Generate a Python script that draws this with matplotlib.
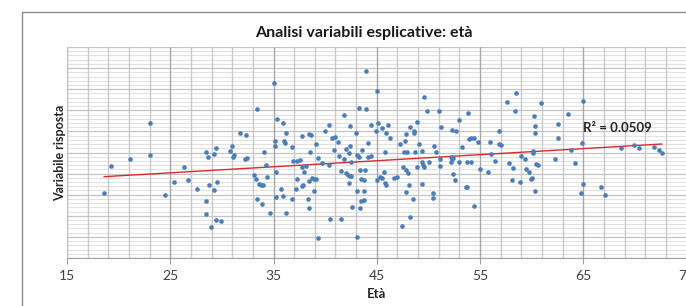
import numpy as np
import matplotlib
matplotlib.use("Agg")
import matplotlib.pyplot as plt
from matplotlib.lines import Line2D
from matplotlib.ticker import MultipleLocator

# ---- data (age vs. response, response in arbitrary units 0-100) ----
eta = [18.6, 19.3, 21.1, 23.0, 23.0, 24.5, 25.4, 26.3, 26.7, 27.6,
       28.5, 29.4, 29.2, 28.7, 28.8, 29.2, 29.5, 28.5, 28.5, 29.4, 29.9, 28.9,
       30.8, 31.0, 31.1, 31.2, 32.2, 32.4, 31.8, 32.3, 33.4,
       33.1, 33.3, 33.6, 33.8, 34.0, 33.4, 33.9, 34.7,
       35.0, 44.0, 45.0, 49.6, 35.3, 35.9, 36.2, 35.1, 35.1, 34.1, 34.3, 36.0, 36.1,
       36.8, 36.9, 37.3, 37.6, 37.8, 38.4, 38.6, 37.8, 38.1, 38.0, 38.5, 39.1, 39.3,
       39.7, 40.0, 40.4, 40.7, 41.0, 41.2, 40.9, 41.3, 40.4, 41.8, 42.4, 42.0, 42.3,
       42.4, 43.0, 43.3, 44.0, 43.1, 43.3, 43.6, 42.5, 41.5, 42.0, 42.2, 42.4, 42.5,
       42.3, 43.4, 43.9, 43.5, 43.8, 43.1, 43.8, 43.5, 43.8, 43.4, 42.6, 43.1, 39.3,
       40.5, 41.5, 38.4, 38.3, 38.9, 38.7, 38.9, 39.1, 38.4, 37.8, 37.9, 37.2, 37.3,
       36.8, 36.2, 35.7, 35.9, 35.2, 35.2, 34.4, 41.8,
       44.4, 44.9, 45.1, 45.5, 46.1, 45.9, 46.3, 44.2, 45.8, 44.2, 44.4, 45.7, 45.0,
       45.3, 45.5, 45.8, 45.9, 46.7, 47.0, 47.4, 47.8, 48.1, 48.5, 48.2, 47.5, 47.8,
       48.0, 47.3, 47.7, 47.6, 47.9, 47.8, 48.2, 48.6, 48.6, 48.9, 48.7, 49.1, 49.4,
       48.9, 49.4, 49.5, 49.6, 49.4, 50.4, 50.4, 49.9, 51.0, 51.2, 50.5, 50.7, 50.1,
       51.1, 51.1, 52.2, 52.4, 52.3, 52.2, 52.3, 52.7, 52.4, 52.6, 53.0, 53.0,
       53.8, 53.3, 53.7, 54.1, 53.9, 54.1, 54.4, 53.6, 53.7, 54.4, 54.8, 55.0, 55.8,
       56.0, 56.1, 56.5, 56.8, 56.8, 57.0, 57.6, 58.5, 58.4, 57.8, 58.2, 58.1, 58.9,
       59.0, 59.4, 59.5, 59.7, 59.9, 60.0, 60.1, 60.1, 60.3, 60.2, 60.3, 60.3, 60.4,
       60.6, 60.9, 62.3, 62.6, 62.6, 63.5, 63.8, 64.2, 65.0, 64.9, 65.0, 64.8, 66.7,
       67.1, 68.7, 69.9, 70.4, 71.9, 72.3, 72.6]
risposta = [31.0, 43.7, 47.1, 63.8, 48.8, 29.9, 36.0, 43.1, 36.8, 32.7,
            50.2, 52.1, 49.1, 47.7, 34.6, 32.1, 36.0, 26.9, 21.0, 17.9, 17.5, 14.5,
            50.9, 53.2, 48.0, 48.7, 47.1, 47.3, 59.1, 58.2, 70.8,
            39.2, 37.4, 34.9, 34.7, 34.5, 27.8, 25.7, 21.2,
            82.8, 88.6, 79.0, 76.4, 65.9, 64.1, 59.1, 55.5, 53.2, 50.4, 43.9, 55.5, 54.4,
            52.6, 46.1, 46.1, 46.4, 57.7, 58.8, 58.4, 43.3, 43.6, 40.9, 50.4, 53.9, 47.5,
            44.9, 60.3, 63.2, 57.0, 57.3, 55.1, 51.2, 48.5, 44.1, 67.6, 62.6, 51.5, 49.9,
            53.1, 59.4, 71.2, 70.6, 48.8, 48.0, 51.2, 45.6, 41.2, 40.1, 39.3, 38.9, 38.7,
            35.7, 41.7, 41.7, 37.4, 37.0, 31.9, 31.9, 26.9, 27.5, 23.7, 24.0, 10.1, 9.6,
            18.6, 18.6, 23.7, 28.1, 31.9, 37.9, 37.6, 37.4, 36.6, 34.1, 34.6, 32.8, 37.6,
            28.1, 21.5, 32.7, 29.4, 29.1, 40.9, 38.2, 47.1,
            63.0, 60.3, 64.1, 61.8, 63.2, 59.1, 56.7, 54.6, 50.4, 47.7, 48.3, 40.9, 36.8,
            38.5, 38.1, 35.7, 34.7, 38.1, 38.2, 15.2, 31.4, 34.7, 27.8, 19.3, 43.3, 41.7,
            40.4, 53.9, 55.5, 50.4, 50.1, 58.8, 62.2, 60.2, 59.1, 64.3, 50.4, 54.0, 50.9,
            43.3, 45.6, 43.9, 43.0, 35.1, 31.0, 28.3, 69.8, 69.8, 61.9, 53.1, 50.1, 45.4,
            43.7, 47.1, 48.0, 47.5, 46.9, 45.6, 60.7, 60.0, 40.0, 37.0, 65.4, 45.6,
            68.6, 52.7, 45.4, 45.4, 56.4, 56.7, 57.0, 33.6, 33.5, 24.6, 54.8, 42.2, 40.6,
            54.8, 49.3, 46.1, 60.3, 53.9, 53.6, 73.9, 78.0, 69.8, 44.9, 42.8, 37.1, 35.9,
            48.2, 46.8, 42.0, 40.8, 37.4, 38.1, 50.9, 49.8, 31.9, 67.4, 62.7, 59.2, 44.4,
            43.9, 73.6, 46.9, 63.5, 56.9, 68.1, 51.0, 45.0, 74.3, 54.4, 34.9, 30.8, 33.8,
            30.0, 52.3, 53.4, 52.1, 52.7, 51.2, 49.6]
x_ticks = [15, 25, 35, 45, 55, 65, 75]
titolo = "Analisi variabili esplicative: età"
r2_label = "R² = 0.0509"

x = np.array(eta)
y = np.array(risposta)

W, H = 686, 306
fig = plt.figure(figsize=(W / 100, H / 100), dpi=100)
plt.rcParams['font.family'] = ['Lato', 'DejaVu Sans']

L, R, T, B = 67, 686.5, 47, 258
ax = fig.add_axes([L / W, 1 - B / H, (R - L) / W, (B - T) / H])
ax.set_xlim(15, 75)
ax.set_ylim(0, 100)

ax.xaxis.set_major_locator(MultipleLocator(10, offset=5))
ax.xaxis.set_minor_locator(MultipleLocator(2, offset=1))
ax.yaxis.set_major_locator(MultipleLocator(10))
ax.yaxis.set_minor_locator(MultipleLocator(2))
ax.grid(which='minor', axis='y', color='#e2e2e2', lw=0.8)
ax.grid(which='major', axis='y', color='#c4c4c4', lw=0.9)
ax.grid(which='minor', axis='x', color='#c9c9c9', lw=1.0)
ax.grid(which='major', axis='x', color='#a8a8a8', lw=1.0)
ax.set_axisbelow(True)
ax.yaxis.set_zorder(0.3)
ax.xaxis.set_zorder(0.6)
ax.set_xticks(x_ticks)
ax.set_xticklabels([str(v) for v in x_ticks])
ax.tick_params(axis='x', which='major', length=4, color='#a0a0a0', labelsize=10,
               labelcolor='#404040', pad=5)
ax.tick_params(axis='x', which='minor', length=0)
ax.tick_params(axis='y', which='both', length=0, labelleft=False)
for s in ['top', 'right']:
    ax.spines[s].set_visible(False)
ax.spines['left'].set_color('#c4c4c4')
ax.spines['bottom'].set_color('#a0a0a0')

ax.scatter(x, y, s=11, color='#4a7ebb', zorder=3, linewidths=0)

k, q = np.polyfit(x, y, 1)
xs = np.array([x.min(), x.max()])
ax.plot(xs, k * xs + q, color='#d92b2b', lw=1.0, zorder=2)

ax.text(65.0, 61.5, r2_label, fontsize=9.5, fontweight='bold', color='#262626',
        ha='left', va='center')

ax.set_xlabel("Età", fontsize=9.5, fontweight='bold', color='#262626', labelpad=4)
ax.set_ylabel("Variabile risposta", fontsize=9, fontweight='bold', color='#262626',
              labelpad=1)
fig.text(364 / W, 1 - 33 / H, titolo, fontsize=11.5, fontweight='bold', color='#1a1a1a',
         ha='center', va='center')

# outer chart border
fig.add_artist(Line2D([22 / W, 22 / W, 1.0], [0.0, 1 - 11.5 / H, 1 - 11.5 / H],
                      transform=fig.transFigure, color='#8c8c8c', lw=1.0))

fig.savefig("out.png", dpi=100)
